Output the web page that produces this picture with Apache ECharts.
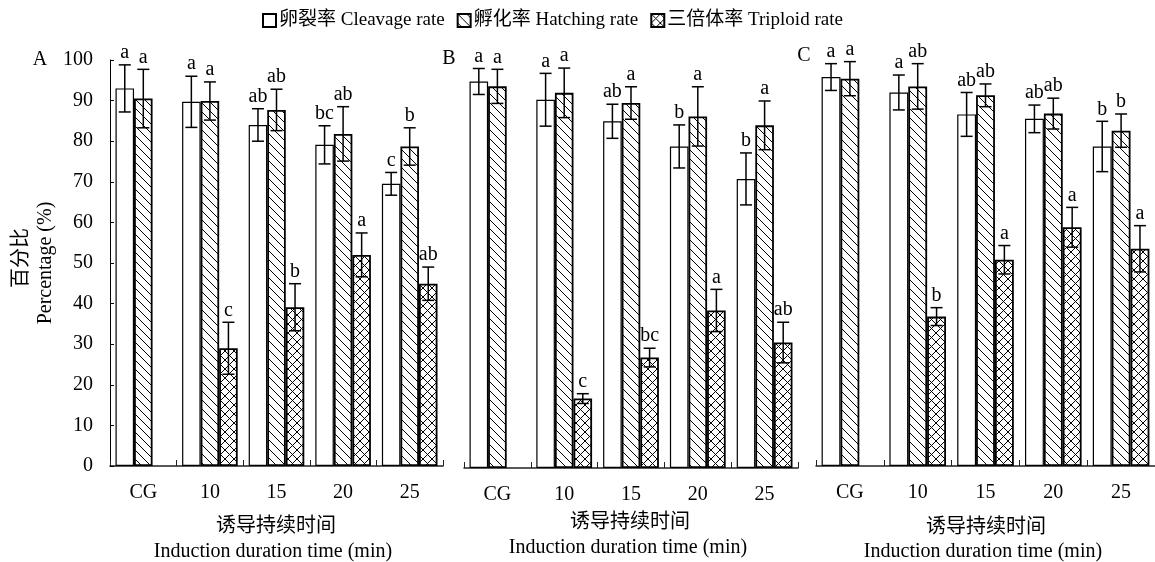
<!DOCTYPE html>
<html><head><meta charset="utf-8">
<script src="https://cdn.jsdelivr.net/npm/echarts@6/dist/echarts.min.js"></script>
<style>html,body{margin:0;padding:0;background:#fff}#c{width:1155px;height:562px}</style>
</head><body><div id="c"></div>
<script>
// ---------- data ----------
const categories = ['CG', '10', '15', '20', '25'];
const seriesNames = ['卵裂率 Cleavage rate', '孵化率 Hatching rate', '三倍体率 Triploid rate'];
const yMin = 0, yMax = 100, yStep = 10;

const cleavageA = [93.0, 89.7, 84.0, 79.1, 69.5];
const cleavageErrA = [5.8, 6.3, 4.0, 4.7, 2.8];
const cleavageLetA = ['a', 'a', 'ab', 'bc', 'c'];
const hatchingA = [90.5, 89.9, 87.7, 81.8, 78.7];
const hatchingErrA = [7.2, 4.7, 5.1, 6.7, 4.6];
const hatchingLetA = ['a', 'a', 'ab', 'ab', 'b'];
const triploidA = [null, 29.0, 39.1, 52.0, 44.9];
const triploidErrA = [null, 6.4, 5.8, 5.4, 4.1];
const triploidLetA = ['', 'c', 'b', 'a', 'ab'];

const cleavageB = [95.2, 90.7, 85.4, 79.2, 71.2];
const cleavageErrB = [3.2, 6.5, 4.2, 5.3, 6.4];
const cleavageLetB = ['a', 'a', 'ab', 'b', 'b'];
const hatchingB = [94.0, 92.4, 89.9, 86.6, 84.4];
const hatchingErrB = [4.2, 6.1, 4.0, 7.3, 6.0];
const hatchingLetB = ['a', 'a', 'a', 'a', 'a'];
const triploidB = [null, 17.1, 27.2, 38.8, 30.9];
const triploidErrB = [null, 1.2, 2.3, 5.2, 5.0];
const triploidLetB = ['', 'c', 'bc', 'a', 'ab'];

const cleavageC = [95.8, 92.0, 86.6, 85.5, 78.7];
const cleavageErrC = [3.3, 4.3, 5.4, 3.4, 6.2];
const cleavageLetC = ['a', 'a', 'ab', 'ab', 'b'];
const hatchingC = [95.4, 93.5, 91.3, 86.8, 82.6];
const hatchingErrC = [4.2, 5.6, 2.8, 3.8, 4.1];
const hatchingLetC = ['a', 'ab', 'ab', 'ab', 'b'];
const triploidC = [null, 36.8, 50.8, 58.8, 53.5];
const triploidErrC = [null, 2.2, 3.5, 4.9, 5.7];
const triploidLetC = ['', 'b', 'a', 'a', 'a'];

const panelLetters = ['A', 'B', 'C'];
const xNameCN = '诱导持续时间';
const xNameEN = 'Induction duration time (min)';
const yNameCN = '百分比';
const yNameEN = 'Percentage (%)';

// ---------- styling ----------
const FONT = "'Liberation Serif','Times New Roman','Noto Sans CJK SC',serif";
const GAP = 0.165;

function makePattern(kind) {
  const s = 9;
  const c = document.createElement('canvas');
  c.width = s; c.height = s;
  const g = c.getContext('2d');
  g.fillStyle = '#fff'; g.fillRect(0, 0, s, s);
  g.strokeStyle = '#000'; g.lineWidth = 1;
  g.beginPath();
  for (let k = -1; k <= 1; k++) {
    g.moveTo(k * s, 0); g.lineTo(k * s + s, s);
    if (kind === 'cross') { g.moveTo(k * s, s); g.lineTo(k * s + s, 0); }
  }
  g.stroke();
  return { image: c, repeat: 'repeat' };
}
const fills = ['#ffffff', makePattern('diag'), makePattern('cross')];
const borderW = [1.2, 1.8, 1.8];

const panels = [
  { vals: [cleavageA, hatchingA, triploidA], errs: [cleavageErrA, hatchingErrA, triploidErrA], lets: [cleavageLetA, hatchingLetA, triploidLetA],
    grid: { left: 110, top: 60, width: 333, height: 406 }, showY: true },
  { vals: [cleavageB, hatchingB, triploidB], errs: [cleavageErrB, hatchingErrB, triploidErrB], lets: [cleavageLetB, hatchingLetB, triploidLetB],
    grid: { left: 464, top: 62, width: 334, height: 406 }, showY: false },
  { vals: [cleavageC, hatchingC, triploidC], errs: [cleavageErrC, hatchingErrC, triploidErrC], lets: [cleavageLetC, hatchingLetC, triploidLetC],
    grid: { left: 816, top: 60, width: 345, height: 406 }, showY: false }
];

const grid = [], xAxis = [], yAxis = [], series = [];
panels.forEach((p, gi) => {
  grid.push(Object.assign({ containLabel: false }, p.grid));
  xAxis.push({
    type: 'category', gridIndex: gi, data: categories,
    axisLine: { show: true, lineStyle: { color: '#222', width: 1.5 } },
    axisTick: { show: true, inside: true, length: 6, lineStyle: { color: '#222', width: 1 } },
    axisLabel: { color: '#000', fontFamily: FONT, fontSize: 20, margin: 17 },
    splitLine: { show: false }
  });
  yAxis.push({
    type: 'value', gridIndex: gi, min: yMin, max: yMax, interval: yStep, show: p.showY,
    axisLine: { show: p.showY, lineStyle: { color: '#000', width: 1 } },
    axisTick: { show: p.showY, inside: true, length: 4, lineStyle: { color: '#000' } },
    axisLabel: { show: p.showY, color: '#000', fontFamily: FONT, fontSize: 20, margin: 17 },
    splitLine: { show: false }
  });
  for (let k = 0; k < 3; k++) {
    series.push({
      type: 'bar', name: seriesNames[k], xAxisIndex: gi, yAxisIndex: gi,
      data: p.vals[k], barGap: '0%', barCategoryGap: (GAP * 100) + '%',
      itemStyle: { color: fills[k], borderColor: '#000', borderWidth: borderW[k] },
      emphasis: { disabled: true }, animation: false
    });
  }
  // error bars + significance letters
  const eData = [], eLet = [];
  for (let k = 0; k < 3; k++) {
    p.vals[k].forEach((v, ci) => {
      if (v == null) return;
      eData.push([ci, v, p.errs[k][ci], k]);
      eLet.push(p.lets[k][ci]);
    });
  }
  series.push({
    type: 'custom', xAxisIndex: gi, yAxisIndex: gi, data: eData, z: 5, silent: true, animation: false,
    encode: { x: 0, y: 1 }, clip: false,
    renderItem: function (params, api) {
      const ci = api.value(0), v = api.value(1), e = api.value(2), k = api.value(3);
      const band = api.size([1, 0])[0];
      const bw = band * (1 - GAP) / 3;
      const cx = api.coord([ci, 0])[0] + (k - 1) * bw;
      const yt = api.coord([ci, v + e])[1];
      const yb = api.coord([ci, v - e])[1];
      const cap = 6;
      const st = { stroke: '#000', lineWidth: 1.5 };
      return {
        type: 'group', children: [
          { type: 'line', shape: { x1: cx, y1: yt, x2: cx, y2: yb }, style: st },
          { type: 'line', shape: { x1: cx - cap, y1: yt, x2: cx + cap, y2: yt }, style: st },
          { type: 'line', shape: { x1: cx - cap, y1: yb, x2: cx + cap, y2: yb }, style: st },
          { type: 'text', x: cx, y: yt - 2, style: { text: eLet[params.dataIndex], fill: '#000', font: '20px ' + FONT, textAlign: 'center', textVerticalAlign: 'bottom' } }
        ]
      };
    }
  });
});

const graphic = [];
const letterPos = [[40, 60], [449, 59], [804, 56]];
panelLetters.forEach((t, i) => graphic.push({ type: 'text', x: letterPos[i][0], y: letterPos[i][1],
  style: { text: t, font: '20px ' + FONT, fill: '#000', textAlign: 'center', textVerticalAlign: 'middle' } }));
const xNamePos = [[276, 527, 273, 552], [630, 523, 628, 548], [986, 528, 983, 552]];
xNamePos.forEach(q => {
  graphic.push({ type: 'text', x: q[0], y: q[1], style: { text: xNameCN, font: '20px ' + FONT, fill: '#000', textAlign: 'center', textVerticalAlign: 'middle' } });
  graphic.push({ type: 'text', x: q[2], y: q[3], style: { text: xNameEN, font: '20px ' + FONT, fill: '#000', textAlign: 'center', textVerticalAlign: 'middle' } });
});
graphic.push({ type: 'text', x: 22, y: 258, rotation: Math.PI / 2, style: { text: yNameCN, font: '20px ' + FONT, fill: '#000', textAlign: 'center', textVerticalAlign: 'middle' } });
graphic.push({ type: 'text', x: 46, y: 263, rotation: Math.PI / 2, style: { text: yNameEN, font: '20px ' + FONT, fill: '#000', textAlign: 'center', textVerticalAlign: 'middle' } });

const chart = echarts.init(document.getElementById('c'), null, { renderer: 'canvas' });
chart.setOption({
  backgroundColor: '#fff', animation: false,
  legend: {
    data: seriesNames, left: 257, top: 6, itemWidth: 13, itemHeight: 13, itemGap: 12,
    icon: 'rect',
    textStyle: { fontFamily: FONT, fontSize: 19, color: '#000', padding: [0, 0, 0, -2] },
    selectedMode: false
  },
  grid, xAxis, yAxis, series, graphic
});
</script></body></html>
